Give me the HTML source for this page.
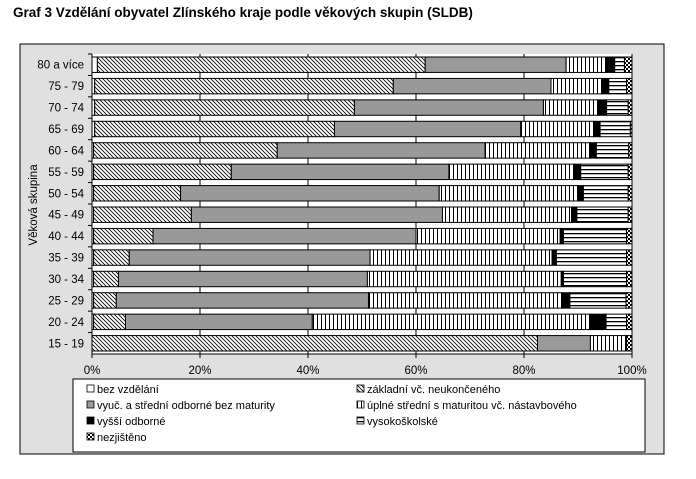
<!DOCTYPE html>
<html><head><meta charset="utf-8"><style>
body{margin:0;background:#fff;width:696px;height:474px;overflow:hidden;font-family:"Liberation Sans",sans-serif}
</style></head><body>
<svg id="c" width="696" height="474" xmlns="http://www.w3.org/2000/svg">
<defs>
<pattern id="pDiag" patternUnits="userSpaceOnUse" width="4" height="4"><rect width="4" height="4" fill="#fff"/><path d="M-1,-1 L5,5 M-1,3 L1,5 M3,-1 L5,1" stroke="#000" stroke-width="0.8"/></pattern>
<pattern id="pVert" patternUnits="userSpaceOnUse" width="4" height="4"><rect width="4" height="4" fill="#fff"/><rect x="1" width="1" height="4" fill="#000"/></pattern>
<pattern id="pHor" patternUnits="userSpaceOnUse" width="4" height="4"><rect width="4" height="4" fill="#fff"/><rect y="1" width="4" height="1.3" fill="#000"/></pattern>
<pattern id="pDot" patternUnits="userSpaceOnUse" width="4" height="4"><rect width="4" height="4" fill="#000"/><rect x="0" y="0" width="2" height="2" fill="#fff"/><rect x="2" y="2" width="2" height="2" fill="#fff"/></pattern>
</defs>
<text x="13" y="17" font-size="13.5" font-weight="bold">Graf 3 Vzdělání obyvatel Zlínského kraje podle věkových skupin (SLDB)</text>
<rect x="20" y="44" width="644" height="410" fill="#e0e0e0" stroke="#000"/>
<rect x="92" y="54" width="540" height="300" fill="#fff"/>
<g id="grid"></g><g id="bars"></g><g id="axes"></g>
<text transform="translate(37,205) rotate(-90)" text-anchor="middle" font-size="11.5">Věková skupina</text>
<rect x="73" y="379" width="572" height="73" fill="#fff" stroke="#000"/>
<g id="legend" font-size="11"></g>
</svg>
<script>
const categories=["80 a více","75 - 79","70 - 74","65 - 69","60 - 64","55 - 59","50 - 54","45 - 49","40 - 44","35 - 39","30 - 34","25 - 29","20 - 24","15 - 19"];
const seriesNames=["bez vzdělání","základní vč. neukončeného","vyuč. a střední odborné bez maturity","úplné střední s maturitou vč. nástavbového","vyšší odborné","vysokoškolské","nezjištěno"];
const bez=[1,0.5,0.5,0.5,0.3,0.3,0.3,0.3,0.3,0.3,0.3,0.3,0.3,0];
const zakladni=[60.7,55.3,48.1,44.4,34.0,25.5,16.1,18.1,11.0,6.6,4.6,4.2,5.9,82.5];
const vyuc=[26.1,29.2,35.0,34.5,38.5,40.3,47.9,46.5,48.7,44.6,46.1,46.7,34.6,9.8];
const uplne=[7.4,9.5,10.1,13.5,19.5,23.2,25.8,23.9,26.7,33.7,35.9,35.9,51.5,6.7];
const vyssi=[1.6,1.2,1.6,1.2,1.1,1.2,0.9,1.0,0.6,0.8,0.4,1.4,2.9,0];
const vysoko=[1.8,3.3,4.0,5.6,6.0,8.8,8.3,9.5,11.7,13.0,11.7,10.4,3.8,0];
const nezjisteno=[1.4,1.0,0.7,0.3,0.6,0.7,0.7,0.7,1.0,1.0,1.0,1.1,1.0,1.0];
const xTicks=[0,20,40,60,80,100];
const xTickLabels=["0%","20%","40%","60%","80%","100%"];

const series=[bez,zakladni,vyuc,uplne,vyssi,vysoko,nezjisteno];
const fills=["#fff","url(#pDiag)","#999999","url(#pVert)","#000","url(#pHor)","url(#pDot)"];
const keys=["bez","zakladni","vyuc","uplne","vyssi","vysoko","nezjisteno"];
const NS="http://www.w3.org/2000/svg";
const X0=92,W=540,Y0=54,H=300;
const band=H/categories.length;
const xs=v=>X0+v/100*W;
const ys=i=>Y0+i*band;
function mk(tag,attrs,parent){const e=document.createElementNS(NS,tag);for(const k in attrs)e.setAttribute(k,attrs[k]);parent.appendChild(e);return e;}
const grid=document.getElementById('grid'),bars=document.getElementById('bars'),axes=document.getElementById('axes'),leg=document.getElementById('legend');
xTicks.forEach((t,i)=>{
  if(t>0){const g=mk('line',{x1:xs(t),x2:xs(t),y1:Y0,y2:Y0+H,stroke:'#000','stroke-width':1},grid);
  
  }
  const tk=mk('line',{x1:xs(t),x2:xs(t),y1:Y0+H,y2:Y0+H+4,stroke:'#000'},axes);
  
  
  const tl=mk('text',{x:xs(t),y:Y0+H+20,'text-anchor':'middle','font-size':11.5},axes);
  tl.textContent=xTickLabels[i];
  
  
});
categories.forEach((c,i)=>{
  let acc=0;const y=ys(i)+band*0.14,h=band*0.72;
  series.forEach((s,k)=>{
    const v=s[i];
    const r=mk('rect',{x:xs(acc),y:y,width:Math.max(0,xs(acc+v)-xs(acc)),height:h,fill:fills[k],stroke:'#000','stroke-width':1},bars);
    
    
    acc+=v;
  });
  const l=mk('text',{x:X0-8,y:ys(i)+band/2+4,'text-anchor':'end','font-size':11.5},axes);
  l.textContent=c;
  
  
  const tk=mk('line',{x1:X0-4,x2:X0,y1:ys(i),y2:ys(i),stroke:'#000'},axes);
  
  
});
const ax1=mk('line',{x1:X0,x2:X0,y1:Y0,y2:Y0+H,stroke:'#000'},axes);


const ax2=mk('line',{x1:X0,x2:X0+W,y1:Y0+H,y2:Y0+H,stroke:'#000'},axes);


const lpos=[[87,392],[357,392],[87,408],[357,408],[87,424],[357,424],[87,440]];
seriesNames.forEach((n,k)=>{
  const [x,y]=lpos[k];
  const sw=mk('rect',{x:x,y:y-7,width:7,height:7,fill:fills[k],stroke:'#000','stroke-width':0.8},leg);
  
  
  const t=mk('text',{x:x+10,y:y+1},leg);
  t.textContent=n;
  
  
});
</script>
</body></html>
